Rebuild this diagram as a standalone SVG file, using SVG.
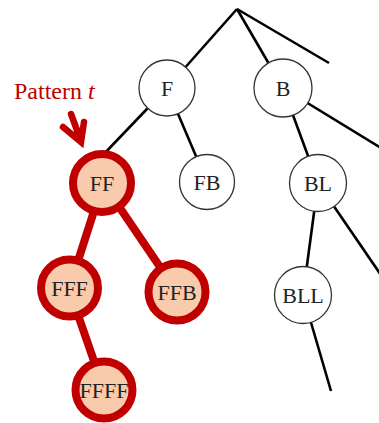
<svg xmlns="http://www.w3.org/2000/svg" width="379" height="423" viewBox="0 0 379 423">
<style>
.e{stroke:#000;stroke-width:2.6;fill:none;stroke-linecap:butt}
.r{stroke:#c00000;stroke-width:8;fill:none}
.n{fill:#fff;stroke:#333;stroke-width:1.3}
.p{fill:#f8cbad;stroke:#c00000;stroke-width:8}
.t{font-family:"Liberation Serif",serif;font-size:22px;fill:#222;text-anchor:middle}
</style>
<rect width="379" height="423" fill="#fff"/>
<g id="connectors">
<line class="e" x1="237" y1="9" x2="167" y2="88"/>
<line class="e" x1="237" y1="9" x2="283" y2="88"/>
<line class="e" x1="237" y1="9" x2="329" y2="63"/>
<line class="e" x1="167" y1="88" x2="102" y2="156"/>
<line class="e" x1="167" y1="88" x2="207" y2="182"/>
<line class="e" x1="283" y1="88" x2="318" y2="183"/>
<line class="e" x1="283" y1="88" x2="381" y2="148"/>
<line class="e" x1="318" y1="183" x2="303" y2="295"/>
<line class="e" x1="318" y1="183" x2="381" y2="275"/>
<line class="e" x1="303" y1="295" x2="331" y2="391"/>
<line class="r" x1="103" y1="183" x2="69" y2="289"/>
<line class="r" x1="103" y1="183" x2="177" y2="292"/>
<line class="r" x1="69" y1="289" x2="104" y2="390"/>
</g>
<g id="F"><circle class="n" cx="167" cy="88" r="28"/><text class="t" x="167" y="96">F</text></g>
<g id="B"><circle class="n" cx="283" cy="88" r="29"/><text class="t" x="283" y="96">B</text></g>
<g id="FB"><circle class="n" cx="207" cy="182" r="27.5"/><text class="t" x="207" y="190">FB</text></g>
<g id="BL"><circle class="n" cx="318" cy="183" r="28.5"/><text class="t" x="318" y="191">BL</text></g>
<g id="BLL"><circle class="n" cx="303" cy="295" r="28.5"/><text class="t" x="303" y="303">BLL</text></g>
<g id="FF"><circle class="p" cx="102" cy="183" r="29"/><text class="t" x="102" y="191">FF</text></g>
<g id="FFF"><circle class="p" cx="69.5" cy="288" r="28.5"/><text class="t" x="69.5" y="296">FFF</text></g>
<g id="FFB"><circle class="p" cx="177" cy="292" r="28.5"/><text class="t" x="177" y="300">FFB</text></g>
<g id="FFFF"><circle class="p" cx="104" cy="390" r="28.5"/><text class="t" x="104" y="398">FFFF</text></g>
<g id="label">
<text x="14" y="99" style="font-family:'Liberation Serif',serif;font-size:24px;fill:#c00000">Pattern <tspan font-style="italic">t</tspan></text>
<path d="M71 114 L81 141 M63 127 L81 142 L84 122" stroke="#c00000" stroke-width="6.5" fill="none" stroke-linecap="round" stroke-linejoin="miter"/>
</g>
</svg>
